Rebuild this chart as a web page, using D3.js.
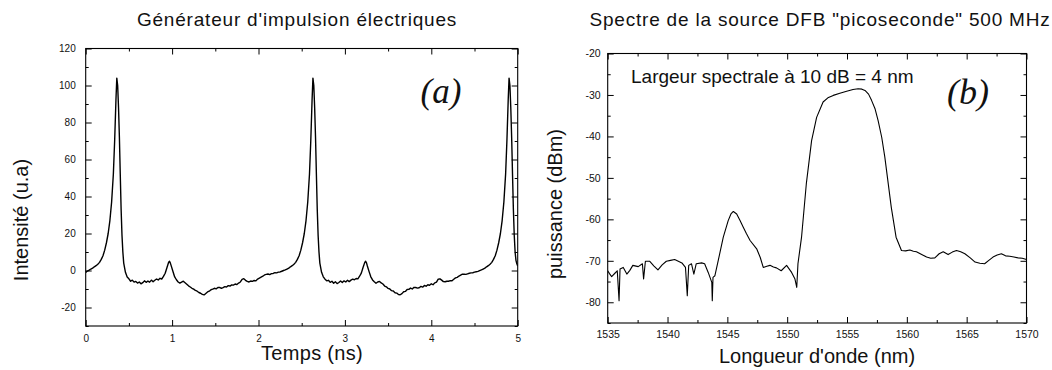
<!DOCTYPE html>
<html><head><meta charset="utf-8">
<script src="https://cdn.jsdelivr.net/npm/d3@7"></script>
<style>
html,body{margin:0;padding:0;background:#fff;}
svg{display:block;font-family:"Liberation Sans",Arial,sans-serif;}
.tick text{font-family:"Liberation Sans",Arial,sans-serif;fill:#111;}
.tick line{stroke:#000;stroke-width:1;}
</style></head>
<body><svg id="c" width="1052" height="370"></svg>
<script>
// ---------- DATA ----------
const titleA = "Générateur d'impulsion électriques";
const titleB = "Spectre de la source DFB \"picoseconde\" 500 MHz";
const xLabelA = "Temps (ns)";
const yLabelA = "Intensité (u.a)";
const xLabelB = "Longueur d'onde (nm)";
const yLabelB = "puissance (dBm)";
const noteB = "Largeur spectrale à 10 dB = 4 nm";

const xTicksA = [0,1,2,3,4,5];
const xMinorA = [0.5,1.5,2.5,3.5,4.5];
const yTicksA = [-20,0,20,40,60,80,100,120];
const yMinorA = [-30,-10,10,30,50,70,90,110];
const xTicksB = [1535,1540,1545,1550,1555,1560,1565,1570];
const xMinorB = [1537.5,1542.5,1547.5,1552.5,1557.5,1562.5,1567.5];
const yTicksB = [-80,-70,-60,-50,-40,-30,-20];
const yMinorB = [-85,-75,-65,-55,-45,-35,-25];

// (time ns, intensity a.u.)
const pulseTrace = [
[0.00,-1],[0.02,-0.3],[0.04,0.2],[0.06,0.8],[0.08,1.3],[0.10,2],[0.12,2.6],[0.14,3.4],[0.16,4.4],[0.18,6],[0.20,8],[0.22,11],[0.24,15],[0.26,20],[0.28,27],[0.30,37],[0.32,52],[0.335,70],[0.35,92],[0.36,104],
[0.37,100],[0.38,88],[0.39,72],[0.40,52],[0.41,33],[0.42,19],[0.43,10],[0.44,4],[0.46,-1],[0.48,-3.5],[0.50,-4.5],[0.52,-5.8],[0.54,-5.2],[0.56,-6.3],[0.58,-5.9],[0.60,-6.8],[0.62,-6.2],[0.64,-7.2],[0.66,-6.6],[0.68,-5.6],[0.70,-6.4],[0.72,-5.7],[0.74,-6.3],[0.76,-5.2],[0.78,-6.1],[0.80,-5.3],[0.82,-4.6],[0.84,-5.1],[0.86,-4.2],[0.88,-4.6],[0.90,-3.2],[0.92,-1.5],[0.94,1.5],[0.96,4.5],[0.97,5],[0.98,4],[0.99,2.5],[1.01,-0.5],[1.03,-3.5],[1.05,-5],[1.07,-6.2],[1.09,-6.8],[1.11,-6.3],[1.13,-5.8],[1.15,-6.6],[1.17,-7.4],[1.19,-8.3],[1.21,-8.9],[1.23,-9.6],[1.25,-10.1],[1.27,-10.8],[1.29,-11.2],[1.31,-11.9],[1.33,-12.3],[1.35,-12.9],[1.37,-13.2],[1.39,-12.4],[1.41,-11.6],[1.43,-11.2],[1.45,-10.4],[1.47,-10.1],[1.49,-9.6],[1.51,-9.9],[1.53,-9.2],[1.55,-9.1],[1.57,-9.6],[1.59,-9.2],[1.61,-8.7],[1.63,-8.9],[1.65,-8.2],[1.67,-8.4],[1.69,-7.8],[1.71,-7.9],[1.73,-7.3],[1.75,-7.6],[1.77,-6.8],[1.79,-6.2],[1.81,-4.8],[1.83,-4.4],[1.85,-5.3],[1.87,-5.9],[1.89,-6.2],[1.91,-5.7],[1.93,-5.9],[1.95,-5.4],[1.97,-5.6],[1.99,-4.6],[2.01,-4.1],[2.03,-3.6],[2.05,-3.1],[2.07,-2.4],[2.09,-2.1],[2.11,-1.9],[2.13,-2.2],[2.15,-1.7],[2.17,-1.6],[2.19,-1.2],[2.21,-1.3],[2.23,-0.9],[2.25,-0.8],[2.27,-0.4],[2.29,0],[2.31,0.3],[2.33,0.8],[2.35,1.3],[2.37,2],[2.39,2.6],[2.41,3.4],[2.43,4.4],[2.45,6],[2.47,8],[2.49,11],[2.51,15],[2.53,20],[2.55,27],[2.57,37],[2.59,52],[2.605,70],[2.62,92],[2.63,104],
[2.64,100],[2.65,88],[2.66,72],[2.67,52],[2.68,33],[2.69,19],[2.70,10],[2.71,4],[2.73,-1],[2.75,-3.4],[2.77,-4.7],[2.79,-5.6],[2.81,-5.3],[2.83,-6.4],[2.85,-5.8],[2.87,-6.9],[2.89,-6.1],[2.91,-7.1],[2.93,-6.5],[2.95,-5.7],[2.97,-6.5],[2.99,-5.6],[3.01,-6.2],[3.03,-5.3],[3.05,-6],[3.07,-5.2],[3.09,-4.7],[3.11,-5],[3.13,-4.3],[3.15,-4.5],[3.17,-3.1],[3.19,-1.4],[3.21,1.6],[3.23,4.4],[3.24,5],[3.25,4.1],[3.26,2.4],[3.28,-0.6],[3.30,-3.4],[3.32,-5.1],[3.34,-6.1],[3.36,-6.9],[3.38,-6.2],[3.40,-5.9],[3.42,-6.7],[3.44,-7.3],[3.46,-8.4],[3.48,-8.8],[3.50,-9.7],[3.52,-10],[3.54,-10.9],[3.56,-11.1],[3.58,-12],[3.60,-12.2],[3.62,-13],[3.64,-13.1],[3.66,-12.5],[3.68,-11.5],[3.70,-11.3],[3.72,-10.3],[3.74,-10.2],[3.76,-9.5],[3.78,-10],[3.80,-9.1],[3.82,-9.2],[3.84,-9.5],[3.86,-9.3],[3.88,-8.6],[3.90,-9],[3.92,-8.1],[3.94,-8.5],[3.96,-7.7],[3.98,-8],[4.00,-7.2],[4.02,-7.7],[4.04,-6.7],[4.06,-6.3],[4.08,-4.7],[4.10,-4.5],[4.12,-5.2],[4.14,-6],[4.16,-6.1],[4.18,-5.8],[4.20,-5.8],[4.22,-5.5],[4.24,-5.5],[4.26,-4.7],[4.28,-4],[4.30,-3.7],[4.32,-3],[4.34,-2.5],[4.36,-2],[4.38,-2],[4.40,-2.1],[4.42,-1.8],[4.44,-1.5],[4.46,-1.3],[4.48,-1.2],[4.50,-0.9],[4.52,-0.7],[4.54,-0.5],[4.56,-0.1],[4.58,0.3],[4.60,0.8],[4.62,1.3],[4.64,2],[4.66,2.6],[4.68,3.4],[4.70,4.4],[4.72,6],[4.74,8],[4.76,11],[4.78,15],[4.80,20],[4.82,27],[4.84,37],[4.86,52],[4.875,70],[4.89,92],[4.90,104],
[4.91,100],[4.92,88],[4.93,72],[4.94,52],[4.95,33],[4.96,19],[4.97,10],[4.98,5.5],[4.99,3.6],[5.00,2.5]
];

// (wavelength nm, power dBm)
const spectrum = [
[1535.0,-72.4],[1535.15,-73.1],[1535.33,-73.8],[1535.6,-73],[1535.8,-72.4],[1535.95,-79.6],[1536.03,-72],[1536.3,-71.6],[1536.6,-73.2],[1536.85,-72.3],[1537.1,-71.1],[1537.55,-71.4],[1537.9,-70.7],[1538.0,-74.4],[1538.15,-70.1],[1538.5,-70.1],[1538.85,-71.2],[1539.2,-72.2],[1539.55,-71],[1539.9,-70.1],[1540.25,-69.9],[1540.6,-69.7],[1540.9,-70.1],[1541.2,-70.5],[1541.5,-71.6],[1541.65,-78.4],[1541.77,-71.1],[1542.0,-70.7],[1542.2,-73.2],[1542.4,-70.7],[1542.85,-70.5],[1543.1,-70.7],[1543.4,-72.8],[1543.7,-75.2],[1543.74,-79.6],[1543.8,-74],[1543.96,-73.6],[1544.24,-69.9],[1544.66,-64.3],[1545.07,-60.3],[1545.3,-58.7],[1545.5,-58.1],[1545.78,-58.7],[1546.05,-60.2],[1546.33,-61.9],[1546.6,-63.5],[1546.9,-65.1],[1547.45,-67.1],[1547.75,-69.2],[1548.0,-71.6],[1548.3,-71.3],[1548.56,-71.1],[1548.85,-71.5],[1549.1,-71.7],[1549.5,-72.4],[1549.95,-71.1],[1550.37,-72.8],[1550.65,-74.4],[1550.8,-76.4],[1550.9,-70.7],[1551.2,-64.3],[1551.6,-51.4],[1552.04,-41],[1552.46,-35.4],[1553.0,-31.7],[1553.4,-30.7],[1553.85,-30.1],[1554.4,-29.6],[1554.97,-29.1],[1555.5,-28.7],[1555.93,-28.5],[1556.25,-28.6],[1556.5,-28.9],[1556.8,-29.8],[1557.05,-31.3],[1557.35,-33.4],[1557.6,-36.2],[1557.9,-40.2],[1558.16,-45],[1558.45,-51.5],[1558.7,-57.1],[1559.1,-64.3],[1559.55,-67.5],[1559.9,-67.6],[1560.25,-67.4],[1560.55,-67.7],[1560.8,-67.8],[1561.2,-68.4],[1561.65,-69.1],[1562.0,-69.4],[1562.34,-69.3],[1562.7,-68.3],[1563.04,-67.8],[1563.45,-68.5],[1563.8,-67.9],[1564.15,-67.5],[1564.5,-67.8],[1564.85,-68.3],[1565.3,-69.3],[1565.7,-70.3],[1566.1,-70.6],[1566.5,-70.7],[1566.85,-69.9],[1567.2,-69.1],[1567.55,-68.6],[1567.9,-68.3],[1568.25,-68.8],[1568.6,-68.9],[1568.95,-69.1],[1569.3,-69.3],[1569.65,-69.4],[1570.0,-69.7]
];

// ---------- DRAW ----------
const svg = d3.select("#c");
svg.append("rect").attr("width",1052).attr("height",370).attr("fill","#fff");

function panel(cfg){
  const g = svg.append("g");
  const x = d3.scaleLinear().domain(cfg.xDomain).range(cfg.xRange);
  const y = d3.scaleLinear().domain(cfg.yDomain).range(cfg.yRange);
  const [x0,x1] = cfg.xRange, [y0,y1] = [cfg.yRange[1], cfg.yRange[0]];
  const fmt = d => String(d);
  const fs = cfg.tickFont;

  // major axes
  g.append("g").attr("transform",`translate(0,${y1})`)
    .call(d3.axisBottom(x).tickValues(cfg.xTicks).tickFormat(fmt).tickSizeInner(-6).tickSizeOuter(0).tickPadding(cfg.xPad))
    .call(a=>{a.select(".domain").remove(); a.selectAll("text").attr("font-size",fs);});
  g.append("g").attr("transform",`translate(0,${y1})`)
    .call(d3.axisBottom(x).tickValues(cfg.xMinor).tickFormat("").tickSizeInner(-3).tickSizeOuter(0))
    .call(a=>a.select(".domain").remove());
  g.append("g").attr("transform",`translate(0,${y0})`)
    .call(d3.axisTop(x).tickValues(cfg.xTicks).tickFormat("").tickSizeInner(-6).tickSizeOuter(0))
    .call(a=>a.select(".domain").remove());
  g.append("g").attr("transform",`translate(0,${y0})`)
    .call(d3.axisTop(x).tickValues(cfg.xMinor).tickFormat("").tickSizeInner(-3).tickSizeOuter(0))
    .call(a=>a.select(".domain").remove());
  g.append("g").attr("transform",`translate(${x0},0)`)
    .call(d3.axisLeft(y).tickValues(cfg.yTicks).tickFormat(fmt).tickSizeInner(-6).tickSizeOuter(0).tickPadding(cfg.yPad))
    .call(a=>{a.select(".domain").remove(); a.selectAll("text").attr("font-size",fs);});
  g.append("g").attr("transform",`translate(${x0},0)`)
    .call(d3.axisLeft(y).tickValues(cfg.yMinor).tickFormat("").tickSizeInner(-3).tickSizeOuter(0))
    .call(a=>a.select(".domain").remove());
  g.append("g").attr("transform",`translate(${x1},0)`)
    .call(d3.axisRight(y).tickValues(cfg.yTicks).tickFormat("").tickSizeInner(-6).tickSizeOuter(0))
    .call(a=>a.select(".domain").remove());
  g.append("g").attr("transform",`translate(${x1},0)`)
    .call(d3.axisRight(y).tickValues(cfg.yMinor).tickFormat("").tickSizeInner(-3).tickSizeOuter(0))
    .call(a=>a.select(".domain").remove());

  // clip + line
  const cid = "clip"+cfg.id;
  svg.append("defs").append("clipPath").attr("id",cid)
    .append("rect").attr("x",x0).attr("y",y0).attr("width",x1-x0).attr("height",y1-y0);
  g.append("path").datum(cfg.data)
    .attr("clip-path",`url(#${cid})`)
    .attr("fill","none").attr("stroke","#000").attr("stroke-width",cfg.lw)
    .attr("stroke-linejoin","round")
    .attr("d", d3.line().x(d=>x(d[0])).y(d=>y(d[1])));

  // frame
  g.append("rect").attr("x",x0).attr("y",y0).attr("width",x1-x0).attr("height",y1-y0)
    .attr("fill","none").attr("stroke","#000").attr("stroke-width",1.1);
  return {g,x,y};
}

const A = panel({id:"a", xDomain:[0,5], xRange:[85.7,517.7], yDomain:[-30,120], yRange:[326,48.5],
  xTicks:xTicksA, xMinor:xMinorA, yTicks:yTicksA, yMinor:yMinorA, data:pulseTrace, lw:1.4,
  tickFont:"10px", xPad:9, yPad:10});
const B = panel({id:"b", xDomain:[1535,1570], xRange:[607.7,1026.5], yDomain:[-85,-20], yRange:[323,53.5],
  xTicks:xTicksB, xMinor:xMinorB, yTicks:yTicksB, yMinor:yMinorB, data:spectrum, lw:1.1,
  tickFont:"10.5px", xPad:8, yPad:7});

// titles
svg.append("text").attr("x",297).attr("y",26).attr("text-anchor","middle")
  .attr("font-size",19).attr("letter-spacing",0.8).attr("fill","#111").text(titleA);
svg.append("text").attr("x",820).attr("y",26).attr("text-anchor","middle")
  .attr("font-size",19).attr("letter-spacing",0.8).attr("fill","#111").text(titleB);

// axis titles
svg.append("text").attr("x",312).attr("y",360).attr("text-anchor","middle")
  .attr("font-size",20).attr("letter-spacing",0.3).attr("fill","#111").text(xLabelA);
svg.append("text").attr("x",817).attr("y",363).attr("text-anchor","middle")
  .attr("font-size",20).attr("fill","#111").text(xLabelB);
svg.append("text").attr("transform","translate(28,220) rotate(-90)").attr("text-anchor","middle")
  .attr("font-size",20).attr("fill","#111").text(yLabelA);
svg.append("text").attr("transform","translate(562,204) rotate(-90)").attr("text-anchor","middle")
  .attr("font-size",20).attr("fill","#111").text(yLabelB);

// panel letters
svg.append("text").attr("x",441).attr("y",103).attr("text-anchor","middle")
  .attr("font-family","'Liberation Serif','Times New Roman',serif").attr("font-style","italic")
  .attr("font-size",35).attr("fill","#111").text("(a)");
svg.append("text").attr("x",968).attr("y",104).attr("text-anchor","middle")
  .attr("font-family","'Liberation Serif','Times New Roman',serif").attr("font-style","italic")
  .attr("font-size",36).attr("fill","#111").text("(b)");

// annotation
svg.append("text").attr("x",631).attr("y",83)
  .attr("font-size",19).attr("fill","#111").text(noteB);
</script></body></html>
